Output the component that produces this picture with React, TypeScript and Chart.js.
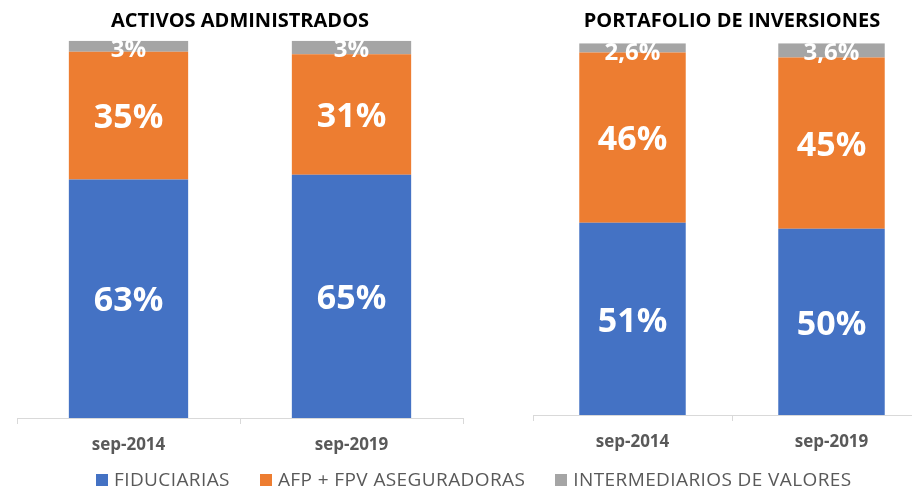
import React, { useEffect, useRef } from "react";
import { Chart, registerables } from "chart.js";

Chart.register(...registerables);

const categories = ["sep-2014", "sep-2019"];
const seriesNames = ["FIDUCIARIAS", "AFP + FPV ASEGURADORAS", "INTERMEDIARIOS DE VALORES"];
const seriesColors = ["#4472C4", "#ED7D31", "#A5A5A5"];

const activosFiduciarias = [63.2, 64.5];
const activosAfp = [33.9, 31.9];
const activosIntermediarios = [2.9, 3.6];
const activosLabels = [["63%", "65%"], ["35%", "31%"], ["3%", "3%"]];

const portafolioFiduciarias = [51.7, 50.1];
const portafolioAfp = [45.8, 46.1];
const portafolioIntermediarios = [2.5, 3.8];
const portafolioLabels = [["51%", "50%"], ["46%", "45%"], ["2,6%", "3,6%"]];

const FONT = '"Open Sans", sans-serif';

function makeLabelPlugin(texts: string[][]) {
  return {
    id: "segLabels",
    afterDatasetsDraw(chart: any) {
      const ctx = chart.ctx;
      chart.data.datasets.forEach((_ds: any, di: number) => {
        const meta = chart.getDatasetMeta(di);
        meta.data.forEach((bar: any, i: number) => {
          const p = bar.getProps(["x", "y", "base"], true);
          const top = Math.min(p.y, p.base);
          const bottom = Math.max(p.y, p.base);
          const h = bottom - top;
          const small = h < 30;
          ctx.save();
          ctx.font = `bold ${small ? 24 : 34}px ${FONT}`;
          ctx.fillStyle = "#ffffff";
          ctx.textAlign = "center";
          ctx.textBaseline = "middle";
          const cy = small ? Math.max((top + bottom) / 2, top + 9.5) : (top + bottom) / 2 + 3;
          ctx.fillText(texts[di][i], p.x, cy);
          ctx.restore();
        });
      });
    },
  };
}

function buildConfig(title: string, values: number[][], texts: string[][], titleBottom: number, padBottom: number) {
  return {
    type: "bar" as const,
    data: {
      labels: categories,
      datasets: values.map((v, i) => ({
        label: seriesNames[i],
        data: v,
        backgroundColor: seriesColors[i],
        borderWidth: 0,
        categoryPercentage: 1,
        barPercentage: 0.535,
      })),
    },
    options: {
      animation: false,
      responsive: false,
      maintainAspectRatio: false,
      layout: { padding: { left: 17, right: 17, top: 0, bottom: padBottom } },
      plugins: {
        legend: { display: false },
        tooltip: { enabled: false },
        title: {
          display: true,
          text: title,
          color: "#000000",
          font: { family: FONT, size: 20, weight: "bold", lineHeight: 1.2 },
          padding: { top: 9.5, bottom: titleBottom },
        },
      },
      scales: {
        x: {
          stacked: true,
          grid: {
            display: true,
            drawOnChartArea: false,
            drawTicks: true,
            tickLength: 6,
            color: "#d9d9d9",
            offset: true,
          },
          border: { display: true, color: "#d9d9d9", width: 1 },
          ticks: {
            color: "#595959",
            padding: 11,
            font: { family: FONT, size: 17, weight: "bold", lineHeight: 1.2 },
          },
        },
        y: {
          stacked: true,
          display: false,
          min: 0,
          max: 100,
        },
      },
    },
    plugins: [makeLabelPlugin(texts)],
  };
}

function BarChart(props: { config: any; width: number; height: number; left: number }) {
  const ref = useRef<HTMLCanvasElement | null>(null);
  useEffect(() => {
    if (!ref.current) return;
    const chart = new Chart(ref.current, props.config);
    return () => chart.destroy();
  }, []);
  return (
    <canvas
      ref={ref}
      width={props.width}
      height={props.height}
      style={{ position: "absolute", left: props.left, top: 0, width: props.width, height: props.height }}
    />
  );
}

export default function App() {
  const leftCfg = buildConfig(
    "ACTIVOS ADMINISTRADOS",
    [activosFiduciarias, activosAfp, activosIntermediarios],
    activosLabels,
    7.2,
    3.6
  );
  const rightCfg = buildConfig(
    "PORTAFOLIO DE INVERSIONES",
    [portafolioFiduciarias, portafolioAfp, portafolioIntermediarios],
    portafolioLabels,
    9.8,
    6.6
  );
  return (
    <div
      style={{
        position: "fixed",
        left: 0,
        top: 0,
        width: 912,
        height: 488,
        overflow: "hidden",
        background: "#ffffff",
      }}
    >
      <BarChart config={leftCfg} width={480} height={470} left={0} />
      <BarChart config={rightCfg} width={432} height={470} left={516} />
      <div
        style={{
          position: "absolute",
          left: 96,
          top: 470,
          display: "flex",
          alignItems: "center",
          fontFamily: FONT,
          fontSize: 19,
          lineHeight: "19px",
          letterSpacing: "0.4px",
          color: "#595959",
          whiteSpace: "nowrap",
        }}
      >
        {seriesNames.map((name, i) => (
          <div key={name} style={{ display: "flex", alignItems: "center", marginRight: 30 }}>
            <span style={{ display: "inline-block", width: 12, height: 12, background: seriesColors[i], marginRight: 6 }} />
            <span>{name}</span>
          </div>
        ))}
      </div>
    </div>
  );
}
